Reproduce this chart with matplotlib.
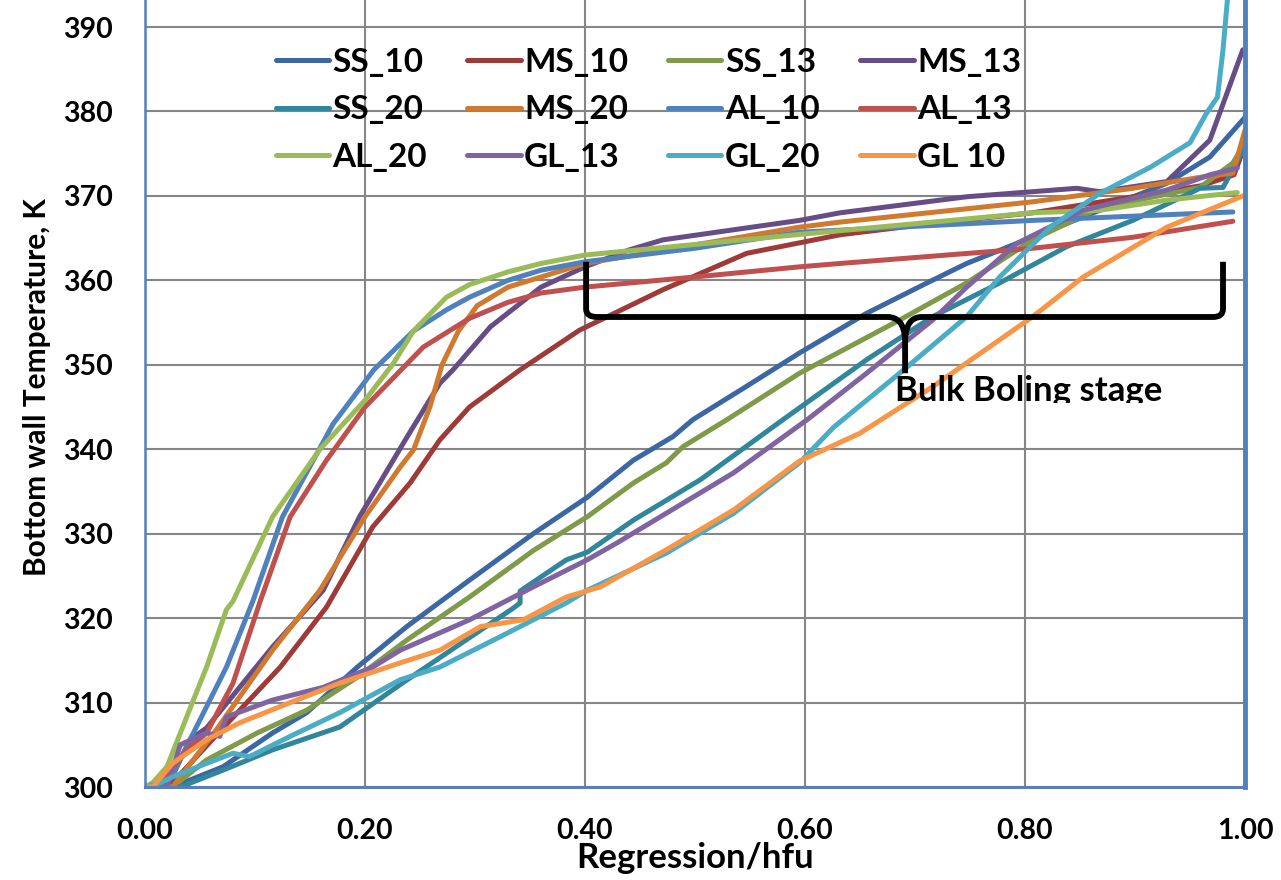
import matplotlib
matplotlib.use("Agg")
import matplotlib.pyplot as plt
from matplotlib.path import Path
from matplotlib.patches import PathPatch, Rectangle

plt.rcParams["font.family"] = ["Lato", "DejaVu Sans"]
plt.rcParams["font.weight"] = "bold"

# series
ss10_x = [0, 0.025, 0.071, 0.116, 0.147, 0.193, 0.238, 0.295, 0.353, 0.402, 0.444, 0.48, 0.498, 0.545, 0.595, 0.656, 0.711, 0.747, 0.793, 0.868, 0.929, 0.968, 1.0]
ss10_y = [300, 300, 302.4, 306.4, 308.8, 314.2, 319, 324.5, 330, 334.3, 338.7, 341.5, 343.5, 347.3, 351.4, 356.1, 359.7, 362, 364.4, 368.3, 371.5, 374.6, 379.3]

ms10_x = [0, 0.025, 0.071, 0.123, 0.165, 0.207, 0.241, 0.268, 0.295, 0.341, 0.395, 0.471, 0.547, 0.632, 0.72, 0.807, 0.898, 0.96, 0.99, 1.0]
ms10_y = [300, 300.5, 307, 314.2, 321.3, 330.8, 336, 341.1, 345, 349.4, 354.1, 358.9, 363.2, 365.4, 366.8, 368, 369.9, 371.2, 372.5, 376]

ss13_x = [0, 0.025, 0.056, 0.102, 0.147, 0.193, 0.238, 0.295, 0.353, 0.402, 0.444, 0.474, 0.489, 0.529, 0.595, 0.686, 0.747, 0.807, 0.868, 0.959, 0.989, 1.0]
ss13_y = [300, 300, 303.2, 306.4, 309.1, 313, 317.4, 322.5, 328, 332, 336, 338.4, 340.3, 343.5, 349, 355.3, 359.7, 364.8, 368.6, 371, 373.9, 376.3]

ms13_x = [0, 0.02, 0.041, 0.056, 0.116, 0.162, 0.195, 0.238, 0.268, 0.28, 0.314, 0.36, 0.40, 0.44, 0.471, 0.595, 0.632, 0.747, 0.847, 0.868, 0.929, 0.968, 0.998]
ms13_y = [300, 300, 305.6, 307, 316.6, 323.3, 332, 341.4, 347.8, 349.4, 354.5, 359.2, 361.6, 363.6, 364.8, 367.1, 368, 369.9, 370.9, 370.5, 371.7, 376.6, 387.3]

ss20_x = [0, 0.032, 0.071, 0.116, 0.177, 0.235, 0.294, 0.335, 0.341, 0.341, 0.35, 0.383, 0.402, 0.444, 0.505, 0.58, 0.656, 0.716, 0.777, 0.838, 0.898, 0.959, 0.98, 1.0]
ss20_y = [300, 300, 302, 304.4, 307.1, 312.4, 317.6, 321.2, 321.8, 323.2, 324.0, 326.9, 327.8, 331.6, 336.4, 343.5, 350.6, 355.7, 359.7, 364, 367.1, 370.9, 371, 375.8]

ms20_x = [0, 0.025, 0.065, 0.116, 0.159, 0.2, 0.232, 0.244, 0.259, 0.27, 0.285, 0.302, 0.33, 0.36, 0.40, 0.595, 0.632, 0.807, 0.898, 0.959, 0.989, 1.0]
ms20_y = [300, 300, 306.8, 316.2, 323.3, 332, 337.9, 339.9, 345, 350, 354, 357, 359.2, 360.4, 362, 366.3, 366.9, 369.3, 370.9, 372.2, 372.7, 377.8]

al10_x = [0, 0.01, 0.025, 0.044, 0.074, 0.098, 0.125, 0.171, 0.208, 0.244, 0.274, 0.295, 0.33, 0.36, 0.40, 0.5, 0.595, 0.807, 0.989]
al10_y = [300, 300, 301.5, 306.4, 314.2, 322, 332, 343, 349.4, 354, 356.5, 358, 360, 361.2, 362.2, 363.8, 365.7, 367.1, 368.1]

al13_x = [0, 0.011, 0.038, 0.056, 0.08, 0.105, 0.132, 0.165, 0.2, 0.253, 0.295, 0.33, 0.36, 0.40, 0.5, 0.595, 0.632, 0.807, 0.898, 0.989]
al13_y = [300, 300, 304.4, 306.4, 312.3, 322.1, 332, 338.7, 345, 352.1, 355.5, 357.4, 358.5, 359.2, 360.4, 361.6, 362, 363.8, 365.1, 367.0]

al20_x = [0, 0.007, 0.02, 0.044, 0.056, 0.074, 0.08, 0.116, 0.159, 0.2, 0.226, 0.244, 0.274, 0.295, 0.33, 0.36, 0.40, 0.6, 0.807, 0.868, 0.929, 0.993]
al20_y = [300, 300.5, 302.4, 310.3, 314.2, 321, 322, 332, 340, 345.8, 350.2, 354, 358, 359.5, 361, 362, 363, 365.5, 368, 368.3, 369.5, 370.4]

gl13_x = [0, 0.02, 0.032, 0.056, 0.068, 0.074, 0.116, 0.162, 0.207, 0.232, 0.295, 0.307, 0.353, 0.402, 0.429, 0.489, 0.535, 0.602, 0.656, 0.716, 0.747, 0.793, 0.853, 0.929, 0.968, 0.993]
gl13_y = [300, 300, 305.0, 306.4, 306, 308.3, 310.3, 311.8, 314.2, 316.2, 319.8, 320.6, 323.7, 326.9, 328.9, 333.6, 337.2, 343.5, 349, 355.3, 359.2, 364.4, 368.3, 370.7, 372.5, 373.3]

gl20_x = [0, 0.014, 0.025, 0.056, 0.08, 0.095, 0.132, 0.177, 0.232, 0.268, 0.323, 0.383, 0.402, 0.474, 0.535, 0.595, 0.626, 0.686, 0.747, 0.777, 0.823, 0.868, 0.914, 0.95, 0.965, 0.975, 0.98, 0.984, 0.987]
gl20_y = [300, 300.5, 301.2, 302.8, 304, 303.6, 306, 308.8, 312.7, 314.2, 317.8, 321.8, 323.3, 327.7, 332.4, 338.4, 342.6, 349, 355.7, 360.4, 366.3, 370.3, 373.4, 376.3, 379.8, 381.7, 387.3, 393.2, 400]

gl10_x = [0, 0.007, 0.025, 0.056, 0.086, 0.132, 0.177, 0.232, 0.268, 0.305, 0.344, 0.383, 0.414, 0.474, 0.535, 0.595, 0.65, 0.716, 0.807, 0.853, 0.929, 1.0]
gl10_y = [300, 300, 302.8, 305.6, 307.6, 310, 312.3, 314.7, 316.2, 319, 319.8, 322.5, 323.7, 328.1, 332.8, 338.6, 341.9, 347.4, 355.7, 360.4, 366.3, 370.1]

series = [
    ("SS_10", "#3C67A3", ss10_x, ss10_y),
    ("MS_10", "#9E3B38", ms10_x, ms10_y),
    ("SS_13", "#7F9A48", ss13_x, ss13_y),
    ("MS_13", "#664D86", ms13_x, ms13_y),
    ("SS_20", "#31869B", ss20_x, ss20_y),
    ("MS_20", "#D07A2F", ms20_x, ms20_y),
    ("AL_10", "#4F81BD", al10_x, al10_y),
    ("AL_13", "#C0504D", al13_x, al13_y),
    ("AL_20", "#9BBB59", al20_x, al20_y),
    ("GL_13", "#8064A2", gl13_x, gl13_y),
    ("GL_20", "#4BACC6", gl20_x, gl20_y),
    ("GL 10", "#F79646", gl10_x, gl10_y),
]

xticks = [0.0, 0.2, 0.4, 0.6, 0.8, 1.0]
yticks = [300, 310, 320, 330, 340, 350, 360, 370, 380, 390]

fig = plt.figure(figsize=(12.81, 8.8), dpi=100)
ax = fig.add_axes([145 / 1281, 1 - 787 / 880, 1100 / 1281, 787 / 880])

handles = {}
for label, color, xs, ys in series:
    (h,) = ax.plot(xs, ys, color=color, lw=3.6, label=label,
                   solid_capstyle="round", solid_joinstyle="round")
    handles[label] = h

ax.set_xlim(0, 1.0)
ax.set_ylim(300, 393.2)
ax.set_xticks(xticks)
ax.set_yticks(yticks)
ax.set_xticklabels([f"{t:.2f}" for t in xticks])
ax.tick_params(axis="both", length=0, labelsize=20.5)
ax.tick_params(axis="y", pad=23)
ax.tick_params(axis="x", pad=22)
ax.grid(True, color="#868686", lw=1.5)
ax.set_axisbelow(True)

ax.spines["top"].set_visible(False)
ax.spines["left"].set_color("#4F81BD")
ax.spines["left"].set_linewidth(1.8)
ax.spines["right"].set_color("#4F81BD")
ax.spines["right"].set_linewidth(3.5)
ax.spines["bottom"].set_color("#5B7FB5")
ax.spines["bottom"].set_linewidth(2.2)

ax.set_xlabel("Regression/hfu", fontsize=25, fontweight="bold", va="baseline")
ax.set_ylabel("Bottom wall Temperature, K", fontsize=21.5, fontweight="bold", va="center")
ax.xaxis.set_label_coords(0.5, -0.103)
ax.yaxis.set_label_coords(-0.098, 0.508)

# legend is filled column by column, reference reads row by row
order = ["SS_10", "SS_20", "AL_20", "MS_10", "MS_20", "GL_13",
         "SS_13", "AL_10", "GL_20", "MS_13", "AL_13", "GL 10"]
ax.legend([handles[k] for k in order], order, ncol=4, frameon=False,
          loc="upper left", bbox_to_anchor=(276 / 1281, 1 - 48 / 880),
          bbox_transform=fig.transFigure, fontsize=24, handlelength=1.6,
          handletextpad=0.1, columnspacing=1.2, labelspacing=0.55,
          borderpad=0, borderaxespad=0)

# brace marking the bulk boiling stage
verts = [(0.401, 362.2), (0.401, 356.6), (0.401, 355.66), (0.411, 355.66),
         (0.675, 355.66), (0.690, 355.66), (0.691, 353.0), (0.691, 349.0),
         (0.691, 353.0), (0.692, 355.66), (0.706, 355.66),
         (0.971, 355.66), (0.980, 355.66), (0.980, 356.6), (0.980, 362.2)]
codes = [Path.MOVETO, Path.LINETO, Path.CURVE3, Path.CURVE3,
         Path.LINETO, Path.CURVE3, Path.CURVE3, Path.LINETO,
         Path.MOVETO, Path.CURVE3, Path.CURVE3,
         Path.LINETO, Path.CURVE3, Path.CURVE3, Path.LINETO]
ax.add_patch(PathPatch(Path(verts, codes), fill=False, lw=4.2, ec="black",
                       capstyle="butt", joinstyle="round", zorder=5))

txt = ax.text(0.682, 345.7, "Bulk Boling stage", fontsize=25, fontweight="bold",
              ha="left", va="baseline", zorder=6, clip_on=True)
txt.set_clip_path(Rectangle((0.6, 345.5), 0.5, 20, transform=ax.transData))

fig.savefig("out.png", dpi=100)
